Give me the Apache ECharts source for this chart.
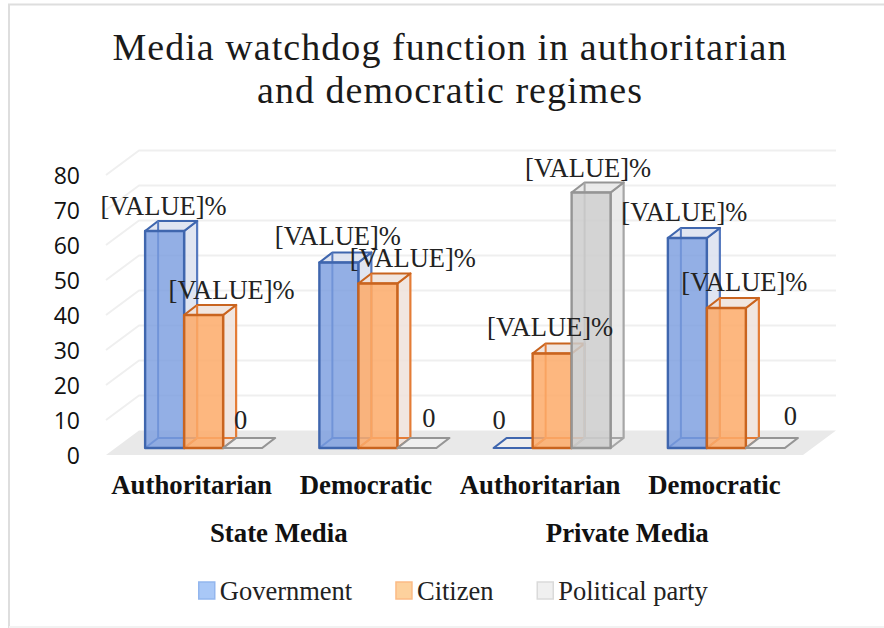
<!DOCTYPE html>
<html><head><meta charset="utf-8">
<style>
html,body{margin:0;padding:0;background:#fff}
#c{width:884px;height:628px}
#c text[style*="38px"]{letter-spacing:1.05px}
</style>
<script src="https://cdn.jsdelivr.net/npm/echarts@6/dist/echarts.min.js"></script>
</head><body><div id="c"></div>
<script>
const titleText = 'Media watchdog function in authoritarian\nand democratic regimes';
const categories = ['Authoritarian', 'Democratic', 'Authoritarian', 'Democratic'];
const groups = ['State Media', 'Private Media'];
const seriesNames = ['Government', 'Citizen', 'Political party'];
const government = [62, 53, 0, 60];
const citizen = [38, 47, 27, 40];
const politicalParty = [0, 0, 73, 0];
const yMin = 0, yMax = 80, yStep = 10;
const yTicks = [0, 10, 20, 30, 40, 50, 60, 70, 80];
const labelText = '[VALUE]%';

// layout only (not data)
const labelShift = [
  [[-1, -25], [28, -25], [-2, -28]],
  [[-1, -27], [35, -26], [12, -30]],
  [[-14, -28], [-2, -27], [-3, -25]],
  [[-3, -26], [18, -26], [25, -32]]
];
const WALL_DX = 33, WALL_DY = 24.5;
const BAR_DX = 13, BAR_DY = 10, BAR_W = 39, BAR_LIFT = 7, BAR_SHIFT = 10.5;
const looks = [
  {front: 'rgba(120,155,222,.8)', side: 'rgba(218,224,238,.85)', line: '#3f66ae', inner: '#5579bf'},
  {front: 'rgba(253,170,105,.85)', side: 'rgba(238,226,218,.85)', line: '#c9641f', inner: '#e47c36'},
  {front: 'rgba(205,205,205,.85)', side: 'rgba(232,232,232,.85)', line: '#959595', inner: '#a6a6a6'}
];
const legendLooks = [
  {color: '#a9c8f7', borderColor: '#93b6ee'},
  {color: '#fdd19d', borderColor: '#fbbb85'},
  {color: '#f0f0f0', borderColor: '#dadada'}
];
const SERIF = '"Liberation Serif","Times New Roman",serif';

function barGeom(api, cat, val, s) {
  const base = api.coord([cat, 0]);
  const top = api.coord([cat, val]);
  const x = base[0] + BAR_SHIFT + (s - 1.5) * BAR_W;
  return {x, y0: base[1] - BAR_LIFT, y1: top[1] - BAR_LIFT};
}
function poly(points, fill, stroke, lw) {
  return {type: 'polygon', shape: {points}, style: {fill: fill, stroke: stroke || null, lineWidth: lw || 0, lineJoin: 'round'}};
}
function line(points, stroke, lw) {
  return {type: 'polyline', shape: {points}, style: {fill: null, stroke, lineWidth: lw, lineJoin: 'round'}};
}
function barRenderer(s) {
  return function (params, api) {
    const cat = api.value(0), val = api.value(1);
    const g = barGeom(api, cat, val, s);
    const L = looks[s], x = g.x, w = BAR_W, y0 = g.y0, y1 = g.y1, dx = BAR_DX, dy = BAR_DY;
    const kids = [];
    if (val > 0) {
      kids.push(poly([[x + w, y1], [x + w + dx, y1 - dy], [x + w + dx, y0 - dy], [x + w, y0]], L.side, L.inner, 2.2));
    }
    kids.push(poly([[x, y1], [x + dx, y1 - dy], [x + w + dx, y1 - dy], [x + w, y1]],
      val > 0 ? L.side : 'rgba(240,240,240,.9)', L.line, 2.2));
    if (val > 0) {
      kids.push(line([[x + dx, y1 - dy], [x + dx, y0 - dy], [x + w + dx, y0 - dy]], L.inner, 2));
      kids.push(line([[x, y0], [x + dx, y0 - dy]], L.inner, 2));
      kids.push(poly([[x, y1], [x + w, y1], [x + w, y0], [x, y0]], L.front, L.line, 2.4));
    }
    return {type: 'group', children: kids};
  };
}
const seriesValues = [government, citizen, politicalParty];
const barSeries = seriesNames.map((name, s) => ({
  name, type: 'custom', xAxisIndex: 0, yAxisIndex: 0, z: 5 + s, silent: true,
  encode: {x: 0, y: 1},
  data: seriesValues[s].map((v, i) => [i, v]),
  renderItem: barRenderer(s)
}));
const labelData = [];
categories.forEach((c, i) => seriesValues.forEach((vals, s) => labelData.push([i, vals[i], s])));

const xLabelStyle = {margin: 16, padding: [0, 3, 0, 0], fontFamily: SERIF, fontSize: 26.8, fontWeight: 'bold', color: '#111', interval: 0};
const option = {
  animation: false,
  backgroundColor: '#fff',
  title: {
    text: titleText, left: 445, top: 20, textAlign: 'center',
    textStyle: {fontFamily: SERIF, fontSize: 38, fontWeight: 'normal', color: '#1a1a1a', lineHeight: 43}
  },
  legend: {
    left: 193, top: 572, itemWidth: 16, itemHeight: 17, itemGap: 43,
    textStyle: {fontFamily: SERIF, fontSize: 26.5, color: '#222'},
    data: seriesNames.map((n, i) => ({name: n, icon: 'rect', itemStyle: Object.assign({borderWidth: 1.5}, legendLooks[i])}))
  },
  grid: {left: 106, right: 81, top: 175, bottom: 173},
  xAxis: [
    {type: 'category', data: categories, position: 'bottom', axisLine: {show: false}, axisTick: {show: false}, axisLabel: xLabelStyle},
    {type: 'category', data: groups, position: 'bottom', offset: 48, axisLine: {show: false}, axisTick: {show: false}, axisLabel: xLabelStyle}
  ],
  yAxis: {type: 'value', min: yMin, max: yMax, interval: yStep, axisLine: {show: false}, axisTick: {show: false}, splitLine: {show: false},
    axisLabel: {margin: 26, padding: [6, 0, 0, 0], fontFamily: '"Open Sans",sans-serif', fontSize: 23, color: '#111'}},
  series: [
    {type: 'custom', name: 'floor', z: 1, silent: true, data: [[0, 0]], encode: {x: 0, y: 1},
      renderItem: function (params, api) {
        const c = params.coordSys, y = api.coord([0, 0])[1], l = c.x, r = c.x + c.width;
        return poly([[l, y], [l + WALL_DX, y - WALL_DY], [r + WALL_DX, y - WALL_DY], [r, y]], '#e9e9e9');
      }},
    {type: 'custom', name: 'walls', z: 2, silent: true, data: yTicks.slice(1).map(t => [0, t]), encode: {x: 0, y: 1},
      renderItem: function (params, api) {
        const c = params.coordSys, y = api.coord([0, api.value(1)])[1], l = c.x, r = c.x + c.width;
        return line([[l, y], [l + WALL_DX, y - WALL_DY], [r + WALL_DX, y - WALL_DY]], '#efefef', 2);
      }}
  ].concat(barSeries).concat([
    {type: 'custom', name: 'labels', z: 20, silent: true, data: labelData, encode: {x: 0, y: 1},
      renderItem: function (params, api) {
        const cat = api.value(0), val = api.value(1), s = api.value(2);
        const g = barGeom(api, cat, val, s);
        const shift = labelShift[cat][s];
        return {type: 'text', z2: 50, style: {
          text: val > 0 ? labelText : String(val),
          x: g.x + BAR_W / 2 + shift[0], y: g.y1 + shift[1],
          align: 'center', verticalAlign: 'middle',
          font: '26.5px ' + SERIF, fill: '#222'
        }};
      }}
  ]),
  graphic: [
    {type: 'polyline', silent: true, z: 0, shape: {points: [[9, 628], [9, 4.5], [884, 4.5]]}, style: {fill: null, stroke: '#dedede', lineWidth: 2}},
    {type: 'line', silent: true, z: 0, shape: {x1: 9, y1: 627, x2: 884, y2: 627}, style: {stroke: '#f2f2f2', lineWidth: 2}}
  ]
};
const chart = echarts.init(document.getElementById('c'), null, {renderer: 'svg'});
chart.setOption(option);
</script></body></html>
